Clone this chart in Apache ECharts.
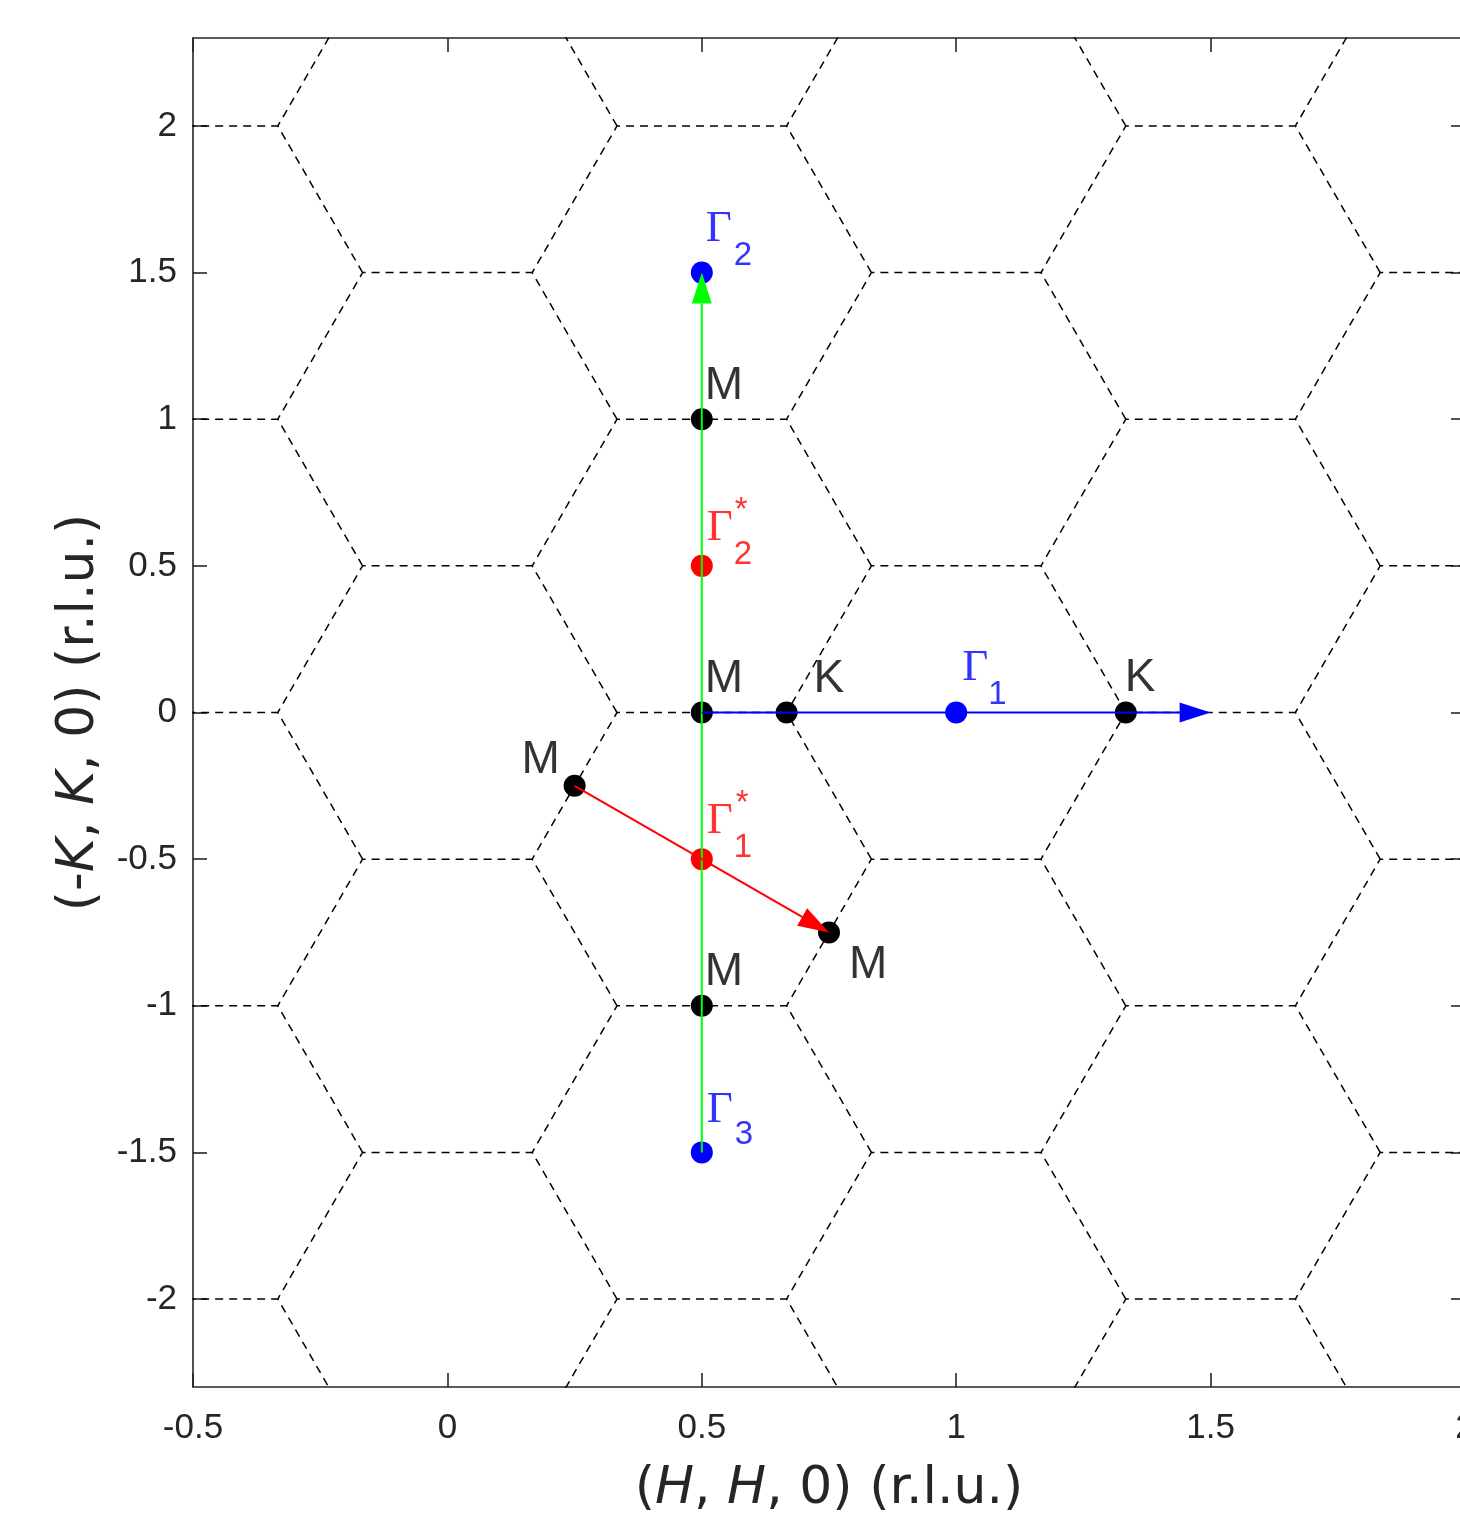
<!DOCTYPE html>
<html><head><meta charset="utf-8">
<script src="https://cdn.jsdelivr.net/npm/echarts@6/dist/echarts.min.js"></script>
<style>html,body{margin:0;padding:0;background:#fff;}#chart{width:1460px;height:1522px;}</style>
</head><body><div id="chart"></div>
<script>
// ---------------- data ----------------
const xRange = [-0.5, 2];
const yRange = [-2.3, 2.3];
const xTicks = [-0.5, 0, 0.5, 1, 1.5, 2];
const yTicks = [-2, -1.5, -1, -0.5, 0, 0.5, 1, 1.5, 2];

// Brillouin-zone (hexagon) centres: reciprocal lattice points, row by row
const zoneCentreRowsY = [-3, -2.5, -2, -1.5, -1, -0.5, 0, 0.5, 1, 1.5, 2, 2.5, 3];
const zoneCentreColsIntRow = [-1, 0, 1, 2];
const zoneCentreColsHalfRow = [-0.5, 0.5, 1.5, 2.5];
// upper half of the zone boundary (K - upper corners - K); lower half is shared with neighbours
const zoneVertexDH = [1/3, 1/6, -1/6, -1/3];
const zoneVertexDK = [0, 0.5, 0.5, 0];

// high-symmetry points
const blackH = [0.5, 0.5, 2/3, 4/3, 0.25, 0.75, 0.5];
const blackK = [1, 0, 0, 0, -0.25, -0.75, -1];
const blackNames = ['M', 'M', 'K', 'K', 'M', 'M', 'M'];

const blueH = [0.5, 1, 0.5];
const blueK = [1.5, 0, -1.5];
const blueSub = ['2', '1', '3'];

const redH = [0.5, 0.5];
const redK = [0.5, -0.5];
const redSub = ['2', '1'];

// arrows (start -> end)
const arrowStartH = [0.5, 0.5, 0.25];
const arrowStartK = [-1.5, 0, -0.25];
const arrowEndH = [0.5, 1.5, 0.75];
const arrowEndK = [1.5, 0, -0.75];

// ---------------- styles / layout ----------------
const AX = '#262626';
const tickFont = 'Liberation Sans';
const titleFont = 'DejaVu Sans';
const arrowColors = ['#00ff00', '#0000ff', '#ff0000'];
const blackOff = [[3,-33],[3,-33],[27,-33],[-1,-34],[-53,-26],[20,33],[3,-33]];
const blueGammaOff = [[4,-43],[6,-44],[5,-42]];
const blueSubOff = [[32,-17],[32,-18],[33,-17]];
const redGammaOff = [[5,-37.5],[5,-37.5]];
const redStarOff = [[33,-55],[34,-55.5]];
const redSubOff = [[32,-10.5],[32,-11.5]];

function zoneEdges() {
  const pts = [];
  zoneCentreRowsY.forEach(cy => {
    const cols = Number.isInteger(cy) ? zoneCentreColsIntRow : zoneCentreColsHalfRow;
    cols.forEach(cx => {
      for (let k = 0; k < zoneVertexDH.length; k++) pts.push([cx + zoneVertexDH[k], cy + zoneVertexDK[k]]);
      pts.push(['-', '-']);
    });
  });
  return pts;
}

function lbl(x, y, text, off, font, size, color) {
  return {value: [x, y], label: {show: true, formatter: text, position: 'inside', align: 'left',
    verticalAlign: 'middle', offset: off, fontFamily: font, fontSize: size, color: color}};
}

const labelItems = [];
blackH.forEach((h, i) => labelItems.push(lbl(h, blackK[i], blackNames[i], blackOff[i], tickFont, 46, '#000')));
blueH.forEach((h, i) => {
  labelItems.push(lbl(h, blueK[i], 'Γ', blueGammaOff[i], 'Liberation Serif', 45, '#0000ff'));
  labelItems.push(lbl(h, blueK[i], blueSub[i], blueSubOff[i], tickFont, 33, '#0000ff'));
});
redH.forEach((h, i) => {
  labelItems.push(lbl(h, redK[i], 'Γ', redGammaOff[i], 'Liberation Serif', 45, '#ff0000'));
  labelItems.push(lbl(h, redK[i], '*', redStarOff[i], tickFont, 33, '#ff0000'));
  labelItems.push(lbl(h, redK[i], redSub[i], redSubOff[i], tickFont, 33, '#ff0000'));
});

function axisCommon(range, ticks, showLabel) {
  return {
    type: 'value', min: range[0], max: range[1],
    axisLine: {show: true, onZero: false, lineStyle: {color: AX, width: 1.6}},
    axisTick: {show: true, inside: true, length: 14, customValues: ticks, lineStyle: {color: AX, width: 1.6}},
    axisLabel: {show: showLabel, customValues: ticks, fontFamily: tickFont, fontSize: 35, color: AX,
      formatter: v => String(v)},
    splitLine: {show: false}
  };
}

const titleStyle = {fontFamily: titleFont, fontSize: 52, color: AX,
  rich: {i: {fontFamily: titleFont, fontSize: 52, color: AX, fontStyle: 'italic'}}};

const xBottom = Object.assign(axisCommon(xRange, xTicks, true), {
  position: 'bottom', name: '({i|H}, {i|H}, 0) (r.l.u.)', nameLocation: 'middle', nameGap: 76,
  nameMoveOverlap: false, nameTextStyle: titleStyle});
xBottom.axisLabel.margin = 24;
const xTop = Object.assign(axisCommon(xRange, xTicks, false), {position: 'top'});
const yLeft = Object.assign(axisCommon(yRange, yTicks, true), {
  position: 'left', name: '(-{i|K}, {i|K}, 0) (r.l.u.)', nameLocation: 'middle', nameGap: 88,
  nameMoveOverlap: false, nameTextStyle: titleStyle});
yLeft.axisLabel.margin = 16;
const yRight = Object.assign(axisCommon(yRange, yTicks, false), {position: 'right'});

const chart = echarts.init(document.getElementById('chart'), null, {renderer: 'canvas', width: 1460, height: 1522});
chart.setOption({
  animation: false,
  backgroundColor: '#ffffff',
  grid: {left: 193, top: 38, right: -5, bottom: 135, containLabel: false, outerBoundsMode: 'none'},
  xAxis: [xBottom, xTop],
  yAxis: [yLeft, yRight],
  series: [
    {type: 'line', data: zoneEdges(), xAxisIndex: 0, yAxisIndex: 0, symbol: 'none', showSymbol: false,
     connectNulls: false, clip: true, silent: true, z: 1,
     lineStyle: {color: '#000', width: 1.5, type: [8, 6]}},
    {type: 'scatter', data: blackH.map((h, i) => [h, blackK[i]]), symbolSize: 22, z: 2, silent: true,
     itemStyle: {color: '#000', opacity: 1}},
    {type: 'scatter', data: blueH.map((h, i) => [h, blueK[i]]), symbolSize: 22, z: 2, silent: true,
     itemStyle: {color: '#0000ff', opacity: 1}},
    {type: 'scatter', data: redH.map((h, i) => [h, redK[i]]), symbolSize: 22, z: 2, silent: true,
     itemStyle: {color: '#ff0000', opacity: 1}},
    {type: 'custom', z: 3, silent: true,
     data: arrowStartH.map((h, i) => [h, arrowStartK[i], arrowEndH[i], arrowEndK[i]]),
     encode: {x: [0, 2], y: [1, 3]},
     renderItem: function (params, api) {
       const p1 = api.coord([api.value(0), api.value(1)]);
       const p2 = api.coord([api.value(2), api.value(3)]);
       const c = arrowColors[params.dataIndex];
       const dx = p2[0] - p1[0], dy = p2[1] - p1[1];
       const len = Math.hypot(dx, dy), ux = dx / len, uy = dy / len;
       const L = 31, W = 10;
       const bx = p2[0] - ux * L, by = p2[1] - uy * L;
       return {type: 'group', children: [
         {type: 'line', shape: {x1: p1[0], y1: p1[1], x2: bx, y2: by}, style: {stroke: c, lineWidth: 2}},
         {type: 'polygon', shape: {points: [[p2[0], p2[1]], [bx - uy * W, by + ux * W], [bx + uy * W, by - ux * W]]},
          style: {fill: c}}
       ]};
     }},
    {type: 'scatter', data: labelItems, symbolSize: 1, z: 4, silent: true,
     itemStyle: {color: 'rgba(0,0,0,0)'}, emphasis: {disabled: true}}
  ]
});
</script></body></html>
